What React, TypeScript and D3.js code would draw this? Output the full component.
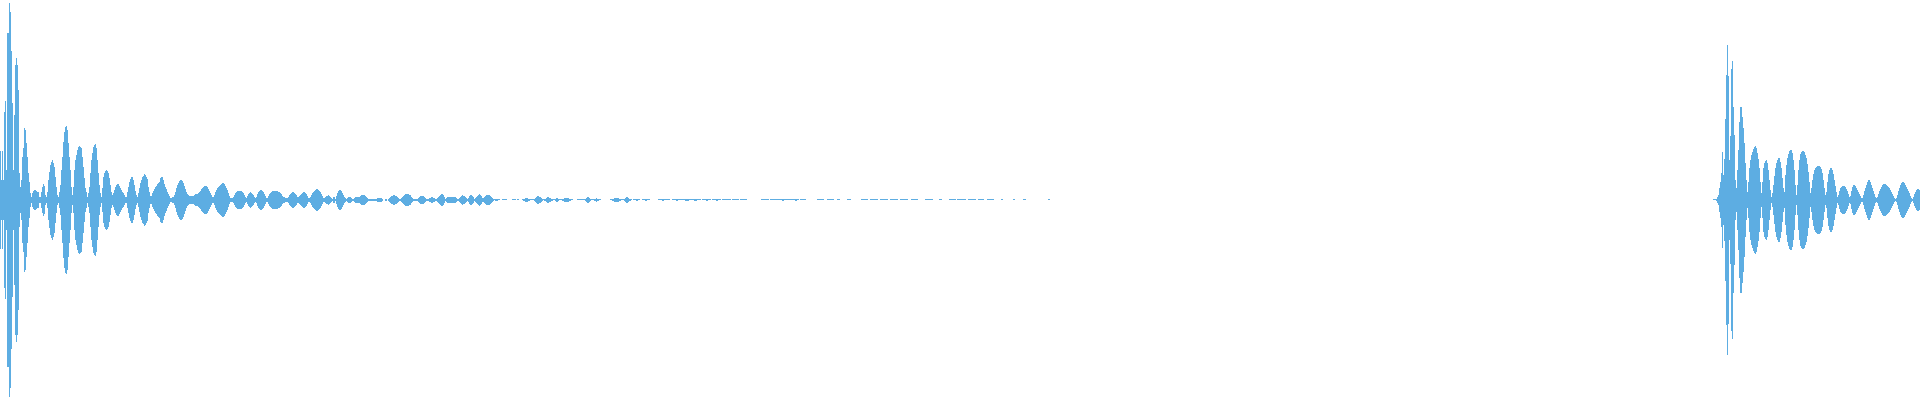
import React from 'react';
import * as d3 from 'd3';

const WIDTH = 1920;
const HEIGHT = 400;
const FILL = '#5DADE2';

// Peak level per sample column (0..200 = half of full scale), first hit
const HIT1_START = 0;
const HIT1_LEVELS = [
  49, 20, 49, 20, 88, 99, 30, 167, 167, 197,
  188, 149, 97, 30, 85, 135, 142, 135, 110, 27,
  13, 20, 43, 52, 72, 70, 57, 43, 27, 18,
  7, 3, 7, 9, 10, 10, 9, 8, 8, 3,
  3, 8, 13, 16, 14, 5, 3, 8, 20, 28,
  35, 38, 40, 37, 33, 23, 13, 5, 3, 8,
  15, 30, 43, 58, 68, 73, 74, 70, 57, 43,
  30, 13, 5, 13, 30, 40, 45, 50, 53, 54,
  53, 52, 43, 33, 22, 12, 8, 3, 7, 13,
  27, 40, 47, 53, 55, 56, 52, 40, 27, 15,
  7, 3, 12, 23, 27, 29, 30, 29, 27, 22,
  15, 8, 5, 7, 10, 13, 15, 16, 16, 14,
  12, 10, 8, 7, 5, 3, 3, 8, 13, 18,
  21, 23, 23, 20, 15, 9, 5, 3, 7, 12,
  17, 20, 23, 24, 26, 25, 23, 21, 13, 8,
  4, 4, 7, 9, 11, 13, 14, 16, 17, 18,
  22, 23, 23, 20, 16, 13, 11, 8, 6, 4,
  2, 2, 3, 3, 5, 8, 12, 15, 17, 19,
  20, 20, 19, 17, 14, 11, 8, 6, 5, 4,
  4, 4, 4, 4, 5, 6, 6, 6, 7, 8,
  9, 11, 12, 13, 14, 14, 14, 13, 11, 9,
  7, 5, 3, 3, 5, 8, 10, 12, 13, 14,
  15, 16, 17, 17, 16, 14, 12, 10, 7, 4,
  2, 2, 2, 3, 5, 7, 8, 9, 9, 9,
  9, 9, 8, 7, 5, 3, 2, 4, 6, 7,
  8, 7, 6, 5, 3, 2, 3, 6, 8, 9,
  10, 10, 9, 8, 6, 4, 2, 2, 4, 6,
  7, 8, 9, 9, 9, 9, 9, 9, 8, 8,
  7, 6, 4, 3, 3, 2, 2, 2, 3, 5,
  6, 7, 8, 8, 7, 6, 5, 3, 3, 4,
  5, 6, 7, 8, 8, 7, 6, 4, 2, 2,
  3, 5, 7, 8, 9, 10, 11, 11, 10, 9,
  8, 6, 4, 2, 2, 3, 4, 4, 5, 4,
  3, 2, 1, 3, 3, 1, 4, 7, 9, 10,
  10, 9, 7, 5, 3, 2, 1, 2, 3, 3,
  3, 2, 1, 1, 2, 3, 3, 3, 3, 3,
  4, 5, 5, 5, 5, 4, 3, 2, 1, 1,
  1, 1, 1, 1, 1, 1, 1, 2, 2, 2,
  2, 2, 1, 0, 0, 1, 1, 0, 1, 2,
  3, 4, 4, 5, 5, 4, 4, 3, 2, 1,
  1, 2, 3, 4, 5, 6, 6, 6, 6, 5,
  5, 3, 2, 1, 1, 1, 1, 1, 2, 3,
  4, 4, 4, 4, 3, 2, 1, 1, 1, 2,
  2, 3, 3, 2, 2, 1, 1, 2, 3, 4,
  5, 6, 6, 5, 3, 1, 2, 3, 3, 3,
  3, 3, 3, 3, 3, 3, 2, 1, 1, 2,
  3, 4, 5, 4, 4, 3, 2, 1, 2, 4,
  5, 5, 4, 3, 1, 2, 3, 4, 5, 6,
  5, 4, 2, 2, 3, 4, 5, 5, 5, 5,
  4, 3, 2, 1, 0.3, 1, 1, 1, 0.3, 0.3,
  0, 0, 0.3, 0.3, 0.3, 0.3, 0.3, 0, 0, 0,
  0, 0, 0.3, 0.3, 0.3, 0.3, 0, 0.3, 0.3, 0,
  0, 0, 0.3, 1, 1, 2, 2, 2, 1, 1,
  0.3, 0.3, 0.3, 0.3, 1, 2, 3, 4, 4, 3,
  3, 2, 1, 0.3, 1, 1, 2, 3, 3, 2,
  2, 1, 1, 0.3, 0.3, 1, 2, 2, 1, 0.3,
  0.3, 0.3, 1, 1, 2, 2, 2, 2, 2, 1,
  1, 0.3, 0.3, 0, 0, 0, 0, 0.3, 0.3, 0.3,
  0.3, 0.3, 0.3, 0.3, 0.3, 1, 2, 3, 3, 2,
  1, 0.3, 0.3, 0.3, 1, 1, 2, 1, 1, 0.3,
  0.3, 0, 0, 0, 0, 0, 0, 0, 0, 0,
  0.3, 0.3, 1, 1, 2, 2, 2, 2, 2, 1,
  1, 0.3, 0.3, 0.3, 1, 2, 3, 3, 2, 1,
  1, 0.3, 0, 0.3, 0.3, 0.3, 1, 1, 0.3, 0.3,
  0, 0, 0.3, 0.3, 0.3, 1, 1, 0.3, 0.3, 0.3,
  0, 0, 0, 0, 0, 0, 0, 0, 0.3, 0.3,
  0.3, 0.3, 1, 1, 0.3, 0.3, 0.3, 0.3, 0.3, 0.3,
  0, 0, 0.3, 0.3, 0.3, 0.3, 1, 1, 0.3, 0.3,
  0.3, 0.3, 0.3, 0.3, 0.3, 1, 1, 1, 1, 0.3,
  0.3, 0.3, 0.3, 0.3, 1, 1, 1, 0.3, 0.3, 0.3,
];

// Faint decay tail of the first hit: [first sample, last sample, level]
const HIT1_TAIL = [
  [700, 700, 0.3], [702, 710, 0.3], [706, 707, 1], [712, 720, 0.3], [716, 717, 1],
  [722, 730, 0.3], [732, 738, 0.3], [740, 746, 0.3], [761, 768, 0.3], [770, 777, 0.3],
  [778, 787, 0.3], [782, 783, 1], [788, 798, 0.3], [795, 796, 1], [800, 805, 0.3],
  [817, 823, 0.3], [827, 833, 0.3], [837, 839, 0.3], [847, 850, 0.3], [861, 867, 0.3],
  [870, 877, 0.3], [880, 887, 0.3], [890, 897, 0.3], [900, 907, 0.3], [911, 917, 0.3],
  [925, 932, 0.3], [939, 941, 0.3], [949, 955, 0.3], [957, 965, 0.3], [968, 975, 0.3],
  [978, 983, 0.3], [987, 993, 0.3], [1001, 1002, 0.3], [1013, 1014, 0.3], [1023, 1025, 0.3],
  [1048, 1049, 0.3],
];

// Second hit
const HIT2_START = 1713;
const HIT2_LEVELS = [
  0.3, 0.3, 0.3, 1, 3, 5, 12,
  18, 27, 48, 25, 41, 81, 125, 155, 124, 40,
  64, 131, 139, 93, 65, 20, 12, 30, 50, 78,
  93, 93, 83, 72, 57, 37, 20, 8,
  18, 32, 40, 45, 48, 51, 53, 54, 52, 47, 41, 32, 18, 7,
  18, 32, 37, 39, 40, 37, 30, 20, 10, 3,
  7, 15, 24, 32, 37, 40, 42, 42, 38, 32, 22, 12, 8,
  25, 35, 42, 46, 49, 50, 50, 47, 40, 30, 15, 5,
  15, 30, 40, 46, 48, 49, 49, 48, 45, 42, 36, 28, 18, 7,
  12, 20, 26, 30, 32, 33, 34, 34, 34, 33, 31, 27, 20, 12, 5,
  8, 18, 26, 30, 32, 32, 30, 26, 20, 14, 8, 3,
  5, 9, 12, 13, 14, 14, 14, 13, 11, 9, 6, 3,
  4, 9, 13, 15, 15, 14, 12, 10, 8, 6, 4, 2,
  2, 5, 9, 12, 15, 18, 20, 20, 18, 15, 12, 9, 6, 3, 2,
  3, 6, 9, 11, 13, 15, 16, 16, 16, 15, 14, 13, 12, 10, 8, 6, 4, 2, 1,
  2, 5, 9, 12, 15, 17, 18, 18, 17, 15, 13, 11, 9, 7, 4, 2, 1,
  3, 6, 8, 10, 11, 11, 10,
];

type Sample = { i: number; v: number };

export default function App() {
  const samples: Sample[] = [];
  HIT1_LEVELS.forEach((v, k) => samples.push({ i: HIT1_START + k, v }));
  HIT1_TAIL.forEach(([s, e, v]) => {
    for (let i = s; i <= e; i++) samples.push({ i, v });
  });
  HIT2_LEVELS.forEach((v, k) => samples.push({ i: HIT2_START + k, v }));

  const x = d3.scaleLinear().domain([0, WIDTH]).range([0, WIDTH]);
  const y = d3.scaleLinear().domain([-200, 200]).range([HEIGHT, 0]);
  const mid = y(0);

  return (
    <svg
      width={WIDTH}
      height={HEIGHT}
      style={{ position: 'absolute', left: 0, top: 0, display: 'block', background: '#ffffff' }}
    >
      <g shapeRendering="crispEdges" fill={FILL}>
        {samples
          .filter((s) => s.v > 0)
          .map((s, k) => {
            let top = Math.round(y(s.v));
            let bot = Math.round(y(-s.v));
            if (bot - top < 1) {
              top = mid - 1;
              bot = mid;
            }
            return (
              <rect
                key={k}
                x={x(s.i)}
                width={x(s.i + 1) - x(s.i)}
                y={top}
                height={bot - top}
              />
            );
          })}
      </g>
    </svg>
  );
}
